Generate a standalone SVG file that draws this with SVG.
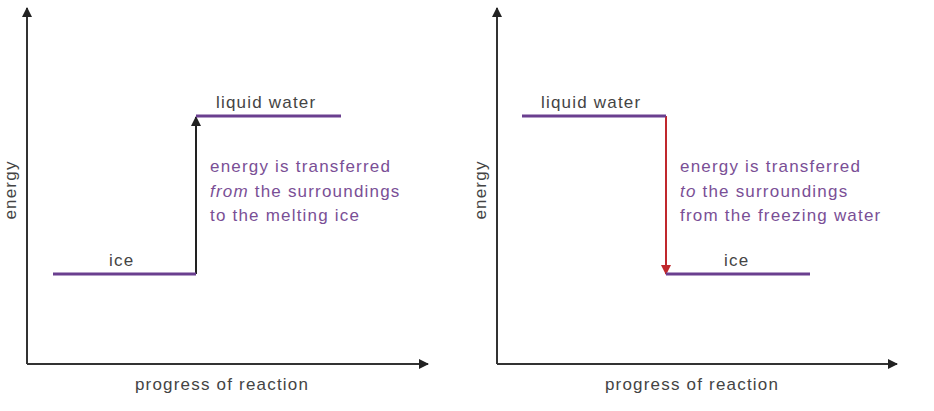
<svg xmlns="http://www.w3.org/2000/svg" width="934" height="411" viewBox="0 0 934 411">
<style>
text{font-family:"Liberation Sans",Arial,sans-serif;font-size:17px;letter-spacing:1.2px}
.lbl{fill:#444}
.pur{fill:#7a4f96}
.axis{stroke:#333;stroke-width:2;fill:none}
.lvl{stroke:#6a3f8f;stroke-width:3;fill:none}
</style>
<defs>
<marker id="ah" viewBox="0 0 10 10" refX="9" refY="5" markerWidth="5" markerHeight="5" orient="auto"><path d="M0,0L10,5L0,10z" fill="#222"/></marker>
<marker id="ahr" viewBox="0 0 10 10" refX="9" refY="5" markerWidth="5" markerHeight="5" orient="auto"><path d="M0,0L10,5L0,10z" fill="#c0282d"/></marker>
</defs>
<rect width="934" height="411" fill="#fff"/>
<g id="connectors">
<line class="axis" x1="27" y1="364" x2="27" y2="8" marker-end="url(#ah)"/>
<line class="axis" x1="27" y1="364" x2="428" y2="364" marker-end="url(#ah)"/>
<line class="axis" x1="497" y1="364" x2="497" y2="8" marker-end="url(#ah)"/>
<line class="axis" x1="497" y1="364" x2="897" y2="364" marker-end="url(#ah)"/>
<line x1="196" y1="274" x2="196" y2="117" stroke="#222" stroke-width="2" marker-end="url(#ah)"/>
<line x1="666" y1="116" x2="666" y2="274" stroke="#c0282d" stroke-width="2" marker-end="url(#ahr)"/>
</g>
<g id="left-ice"><line class="lvl" x1="53" y1="274" x2="196" y2="274"/><text class="lbl" x="109" y="266">ice</text></g>
<g id="left-liquid"><line class="lvl" x1="196" y1="116" x2="341" y2="116"/><text class="lbl" x="216" y="108">liquid water</text></g>
<g id="left-note"><text class="pur" x="210" y="172">energy is transferred</text><text class="pur" x="210" y="197"><tspan font-style="italic">from</tspan> the surroundings</text><text class="pur" x="210" y="221">to the melting ice</text></g>
<g id="left-labels"><text class="lbl" transform="translate(16,190) rotate(-90)" text-anchor="middle">energy</text><text class="lbl" x="222" y="390" text-anchor="middle">progress of reaction</text></g>
<g id="right-liquid"><line class="lvl" x1="522" y1="116" x2="666" y2="116"/><text class="lbl" x="541" y="108">liquid water</text></g>
<g id="right-ice"><line class="lvl" x1="666" y1="274" x2="810" y2="274"/><text class="lbl" x="724" y="266">ice</text></g>
<g id="right-note"><text class="pur" x="680" y="172">energy is transferred</text><text class="pur" x="680" y="197"><tspan font-style="italic">to</tspan> the surroundings</text><text class="pur" x="680" y="221">from the freezing water</text></g>
<g id="right-labels"><text class="lbl" transform="translate(486,190) rotate(-90)" text-anchor="middle">energy</text><text class="lbl" x="692" y="390" text-anchor="middle">progress of reaction</text></g>
</svg>
